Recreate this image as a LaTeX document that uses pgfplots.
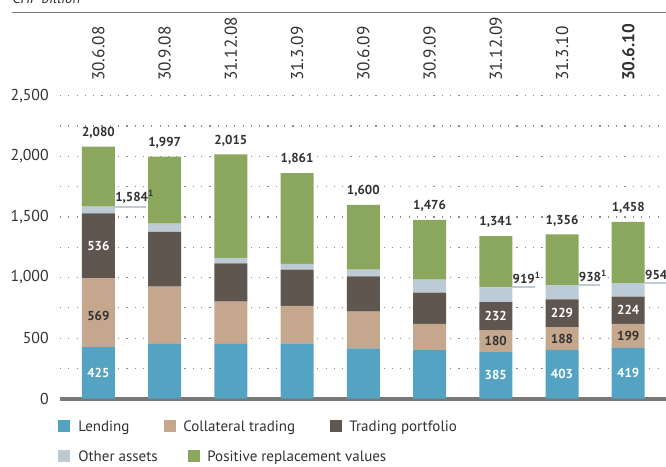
\documentclass[border=0pt]{standalone}
\usepackage{fontspec}
\setmainfont{PT Sans}
\usepackage{pgfplots}
\pgfplotsset{compat=1.18}
\definecolor{cLend}{RGB}{84,163,194}
\definecolor{cColl}{RGB}{196,167,141}
\definecolor{cTrad}{RGB}{95,86,79}
\definecolor{cOther}{RGB}{189,203,214}
\definecolor{cPRV}{RGB}{139,167,94}
\definecolor{axgray}{RGB}{120,120,120}
\definecolor{gridgray}{RGB}{140,140,140}
\definecolor{txt}{RGB}{50,50,50}
\newcommand{\vlab}{\fontsize{6.5}{8}\selectfont\bfseries}
\newcommand{\dlab}{\fontsize{7.5}{9}\selectfont}
\newcommand{\tlab}{\fontsize{8.6}{10}\selectfont}

\begin{document}
\begin{tikzpicture}
\begin{axis}[
  ybar stacked, bar width=16.5pt,
  scale only axis, width=303pt, height=151.5pt,
  xmin=-0.58, xmax=8.57, ymin=0, ymax=2500,
  axis x line=bottom, axis y line=left,
  x axis line style={line width=2pt, draw=axgray, -},
  y axis line style={draw=none},
  xtick=\empty,
  ytick={0,500,...,2500},
  minor ytick={250,750,...,2250},
  ymajorgrids, yminorgrids,
  major grid style={gridgray, line width=0.6pt, dash pattern=on 0.6pt off 3.55pt},
  minor grid style={gridgray, line width=0.6pt, dash pattern=on 0.6pt off 3.55pt},
  tick style={draw=none},
  yticklabel style={font=\fontsize{7.9}{10}\selectfont, text=txt},
  /pgf/number format/assume math mode=true,
  /pgf/number format/1000 sep={,},
  clip=false,
  every axis plot/.append style={draw=none},
]
\addplot[fill=cLend] coordinates {(0,425) (1,452) (2,452) (3,457) (4,416) (5,400) (6,385) (7,403) (8,419)};
\addplot[fill=cColl] coordinates {(0,569) (1,472) (2,349) (3,309) (4,303) (5,218) (6,180) (7,188) (8,199)};
\addplot[fill=cTrad] coordinates {(0,536) (1,452) (2,315) (3,300) (4,290) (5,257) (6,232) (7,229) (8,224)};
\addplot[fill=cOther] coordinates {(0,54) (1,68) (2,46) (3,47) (4,55) (5,107) (6,122) (7,118) (8,112)};
\addplot[fill=cPRV] coordinates {(0,496) (1,553) (2,853) (3,748) (4,536) (5,494) (6,422) (7,418) (8,504)};

\coordinate (O) at (rel axis cs:0,0);
% totals
\coordinate (t0) at (axis cs:0,2080);
\coordinate (t1) at (axis cs:1,1997);
\coordinate (t2) at (axis cs:2,2015);
\coordinate (t3) at (axis cs:3,1861);
\coordinate (t4) at (axis cs:4,1600);
\coordinate (t5) at (axis cs:5,1476);
\coordinate (t6) at (axis cs:6,1341);
\coordinate (t7) at (axis cs:7,1356);
\coordinate (t8) at (axis cs:8,1458);
% segment label positions
\coordinate (a1) at (axis cs:0,212);
\coordinate (a2) at (axis cs:0,680);
\coordinate (a3) at (axis cs:0,1262);
\coordinate (b1) at (axis cs:6,192);
\coordinate (b2) at (axis cs:6,475);
\coordinate (b3) at (axis cs:6,684);
\coordinate (c1) at (axis cs:7,201);
\coordinate (c2) at (axis cs:7,497);
\coordinate (c3) at (axis cs:7,708);
\coordinate (e1) at (axis cs:8,209);
\coordinate (e2) at (axis cs:8,518);
\coordinate (e3) at (axis cs:8,732);
% totals without positive replacement values
\coordinate (f0a) at (axis cs:0.249,1584); \coordinate (f0b) at (axis cs:0.716,1584);
\coordinate (f6a) at (axis cs:6.249,919);  \coordinate (f6b) at (axis cs:6.59,919);
\coordinate (f7a) at (axis cs:7.249,938);  \coordinate (f7b) at (axis cs:7.58,938);
\coordinate (f8a) at (axis cs:8.249,954);  \coordinate (f8b) at (axis cs:8.57,954);
% date label anchors
\coordinate (d0) at (axis cs:0,2620);
\coordinate (d1) at (axis cs:1,2620);
\coordinate (d2) at (axis cs:2,2620);
\coordinate (d3) at (axis cs:3,2620);
\coordinate (d4) at (axis cs:4,2620);
\coordinate (d5) at (axis cs:5,2620);
\coordinate (d6) at (axis cs:6,2620);
\coordinate (d7) at (axis cs:7,2620);
\coordinate (d8) at (axis cs:8,2620);
\end{axis}

\begin{scope}[every node/.style={inner sep=0pt, text=txt, font=\vlab}]
  \foreach \c/\t in {t0/{2,080},t1/{1,997},t2/{2,015},t3/{1,861},t4/{1,600},t5/{1,476},t6/{1,341},t7/{1,356},t8/{1,458}}
    \node[anchor=south, yshift=4pt] at (\c) {\t};
  \foreach \c/\t in {a1/425,a3/536,b1/385,b3/232,c1/403,c3/229,e1/419,e3/224}
    \node[text=white] at (\c) {\t};
  \foreach \c/\t in {a2/569,b2/180,c2/188,e2/199}
    \node at (\c) {\t};
  \foreach \c/\t in {f0/{1,584},f6/919,f7/938,f8/954}{
    \draw[cOther, line width=1pt] (\c a) -- (\c b);
    \node[anchor=south west, yshift=1.5pt] at (\c a) {\t\textsuperscript{1}};
  }
  \foreach \c/\t in {d0/30.6.08,d1/30.9.08,d2/31.12.08,d3/31.3.09,d4/30.6.09,d5/30.9.09,d6/31.12.09,d7/31.3.10}
    \node[rotate=90, anchor=west, font=\tlab] at (\c) {\t};
  \node[rotate=90, anchor=west, font=\tlab\bfseries] at (d8) {30.6.10};
\end{scope}

\begin{scope}[shift={(O)}, shift={(-30pt,199.35pt)}, x=0.5pt, y=-0.5pt]
  \node[anchor=base west, inner sep=0pt, text=txt, font=\dlab\itshape] at (12,4) {CHF billion};
  \draw[axgray, line width=0.5pt] (12,12.3) -- (666,12.3);
  % legend
  \fill[cLend] (58,420) rectangle (70,432);
  \node[anchor=base west, inner sep=0pt, text=txt, font=\dlab] at (78,432) {Lending};
  \fill[cColl] (164,420) rectangle (176,432);
  \node[anchor=base west, inner sep=0pt, text=txt, font=\dlab] at (183,432) {Collateral trading};
  \fill[cTrad] (330,420) rectangle (342,432);
  \node[anchor=base west, inner sep=0pt, text=txt, font=\dlab] at (349,432) {Trading portfolio};
  \fill[cOther] (58,450) rectangle (70,462);
  \node[anchor=base west, inner sep=0pt, text=txt, font=\dlab] at (78,462) {Other assets};
  \fill[cPRV] (188,450) rectangle (200,462);
  \node[anchor=base west, inner sep=0pt, text=txt, font=\dlab] at (207,462) {Positive replacement values};
  \pgfresetboundingbox
  \path[use as bounding box] (0,0) rectangle (666,467);
\end{scope}
\end{tikzpicture}
\end{document}
